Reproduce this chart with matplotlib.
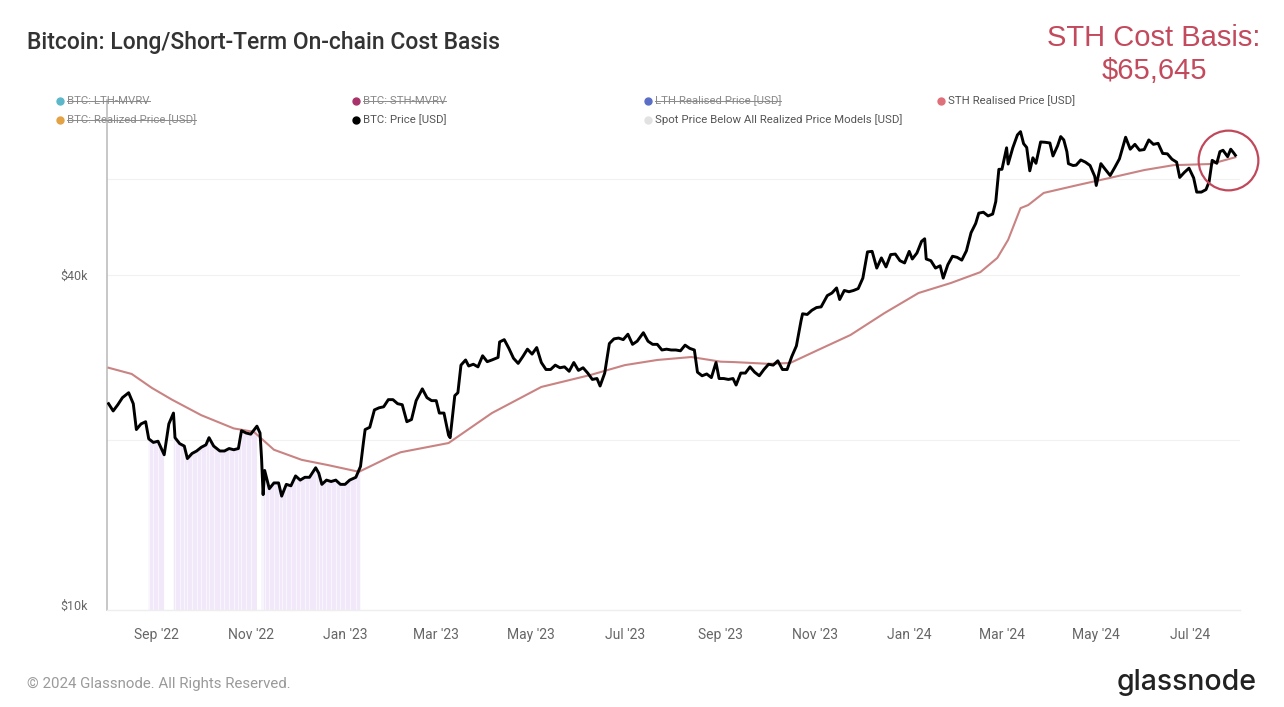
import matplotlib
matplotlib.use("Agg")
import matplotlib.pyplot as plt
import matplotlib.dates as mdates
from matplotlib.lines import Line2D
import numpy as np
import pandas as pd

# ---------------- data ----------------
price_dates = [
    "2022-08-01","2022-08-04","2022-08-07","2022-08-10","2022-08-14","2022-08-17","2022-08-19","2022-08-22",
    "2022-08-25","2022-08-27","2022-08-30","2022-09-02","2022-09-06","2022-09-09","2022-09-12","2022-09-13",
    "2022-09-16","2022-09-19","2022-09-21","2022-09-24","2022-09-27","2022-09-30","2022-10-03","2022-10-05",
    "2022-10-08","2022-10-12","2022-10-15","2022-10-18","2022-10-21","2022-10-24","2022-10-26","2022-10-29",
    "2022-11-01","2022-11-05","2022-11-07","2022-11-08","2022-11-09","2022-11-10","2022-11-13","2022-11-16",
    "2022-11-19","2022-11-21","2022-11-24","2022-11-27","2022-11-30","2022-12-03","2022-12-06","2022-12-09",
    "2022-12-13","2022-12-15","2022-12-17","2022-12-20","2022-12-23","2022-12-26","2022-12-29","2023-01-01",
    "2023-01-04","2023-01-08","2023-01-11","2023-01-13","2023-01-14","2023-01-17","2023-01-20","2023-01-23",
    "2023-01-26","2023-01-29","2023-02-01","2023-02-04","2023-02-07","2023-02-10","2023-02-13","2023-02-16",
    "2023-02-20","2023-02-23","2023-02-26","2023-03-01","2023-03-03","2023-03-06","2023-03-09","2023-03-10",
    "2023-03-13","2023-03-15","2023-03-17","2023-03-20","2023-03-22","2023-03-25","2023-03-28","2023-03-31",
    "2023-04-03","2023-04-06","2023-04-10","2023-04-11","2023-04-14","2023-04-17","2023-04-20","2023-04-23",
    "2023-04-26","2023-04-29","2023-05-02","2023-05-05","2023-05-08","2023-05-11","2023-05-14","2023-05-17",
    "2023-05-20","2023-05-23","2023-05-26","2023-05-29","2023-06-01","2023-06-04","2023-06-07","2023-06-10",
    "2023-06-13","2023-06-15","2023-06-18","2023-06-21","2023-06-24","2023-06-27","2023-06-30","2023-07-03",
    "2023-07-06","2023-07-09","2023-07-13","2023-07-16","2023-07-19","2023-07-22","2023-07-25","2023-07-28",
    "2023-07-31","2023-08-03","2023-08-06","2023-08-09","2023-08-12","2023-08-15","2023-08-17","2023-08-20",
    "2023-08-23","2023-08-26","2023-08-29","2023-08-31","2023-09-03","2023-09-06","2023-09-09","2023-09-11",
    "2023-09-14","2023-09-17","2023-09-20","2023-09-23","2023-09-26","2023-09-29","2023-10-02","2023-10-05",
    "2023-10-08","2023-10-11","2023-10-14","2023-10-17","2023-10-20","2023-10-23","2023-10-24","2023-10-27",
    "2023-10-30","2023-11-02","2023-11-05","2023-11-09","2023-11-12","2023-11-15","2023-11-17","2023-11-20",
    "2023-11-23","2023-11-26","2023-11-29","2023-12-02","2023-12-05","2023-12-08","2023-12-11","2023-12-14",
    "2023-12-17","2023-12-20","2023-12-23","2023-12-26","2023-12-29","2024-01-01","2024-01-03","2024-01-06",
    "2024-01-09","2024-01-11","2024-01-12","2024-01-15","2024-01-18","2024-01-21","2024-01-23","2024-01-26",
    "2024-01-29","2024-02-01","2024-02-04","2024-02-07","2024-02-10","2024-02-13","2024-02-15","2024-02-18",
    "2024-02-21","2024-02-24","2024-02-26","2024-02-28","2024-03-01","2024-03-04","2024-03-05","2024-03-08",
    "2024-03-11","2024-03-13","2024-03-15","2024-03-17","2024-03-19","2024-03-21","2024-03-23","2024-03-26",
    "2024-03-29","2024-04-01","2024-04-03","2024-04-06","2024-04-08","2024-04-10","2024-04-12","2024-04-13",
    "2024-04-16","2024-04-18","2024-04-21","2024-04-24","2024-04-27","2024-04-30","2024-05-01","2024-05-04",
    "2024-05-07","2024-05-10","2024-05-13","2024-05-16","2024-05-20","2024-05-23","2024-05-26","2024-05-29",
    "2024-06-01","2024-06-04","2024-06-07","2024-06-10","2024-06-13","2024-06-16","2024-06-19","2024-06-22",
    "2024-06-24","2024-06-27","2024-06-30","2024-07-03","2024-07-05","2024-07-08","2024-07-11","2024-07-13",
    "2024-07-15","2024-07-18","2024-07-20","2024-07-22","2024-07-25","2024-07-27","2024-07-29","2024-07-30",
]
price_k = [
    23.3,22.6,23.2,23.9,24.4,23.3,20.9,21.4,
    21.6,20.1,19.8,19.9,18.8,21.4,22.4,20.2,
    19.7,19.5,18.5,18.9,19.1,19.4,19.6,20.2,
    19.5,19.1,19.1,19.3,19.2,19.3,20.8,20.6,
    20.5,21.2,20.6,18.5,15.9,17.6,16.3,16.7,
    16.7,15.8,16.6,16.5,17.2,16.9,17.1,17.1,
    17.8,17.4,16.6,16.9,16.8,16.9,16.6,16.6,
    16.9,17.1,17.9,19.9,20.9,21.1,22.7,22.9,
    23.0,23.7,23.7,23.3,23.2,21.6,21.8,23.6,
    24.8,23.9,23.6,23.6,22.4,22.4,20.4,20.2,
    24.1,24.4,27.4,28.0,27.3,27.5,27.2,28.5,
    27.8,28.0,28.3,30.2,30.5,29.4,28.2,27.6,
    28.4,29.3,28.7,29.5,27.7,26.9,26.9,27.4,
    27.1,27.2,26.7,27.7,26.8,27.1,26.5,25.8,
    25.9,25.1,26.5,30.0,30.6,30.7,30.5,31.2,
    29.9,30.3,31.4,30.3,29.9,29.9,29.2,29.3,
    29.2,29.2,29.1,29.8,29.4,29.2,26.6,26.2,
    26.4,26.0,27.7,25.9,25.9,25.8,25.9,25.2,
    26.5,26.5,27.2,26.6,26.2,26.9,27.5,27.4,
    27.9,26.9,26.9,28.4,29.7,33.0,34.0,33.9,
    34.5,34.9,35.0,36.7,37.1,37.9,36.1,37.5,
    37.3,37.5,37.8,39.5,44.1,44.2,41.2,43.0,
    41.4,43.6,43.7,42.5,42.1,44.2,42.8,43.9,
    46.1,46.6,42.8,42.5,41.2,41.6,39.5,41.8,
    43.3,43.1,42.6,44.3,47.8,49.7,51.9,52.1,
    51.3,51.7,54.5,62.4,62.4,68.3,63.8,68.3,
    72.1,73.1,69.5,68.4,62.0,65.5,64.0,70.0,
    69.9,69.7,66.0,68.9,71.6,70.6,67.2,63.9,
    63.4,63.5,64.9,64.3,63.4,60.6,58.3,63.9,
    62.3,60.8,62.9,65.2,71.4,67.9,69.3,67.6,
    67.8,70.6,69.3,69.6,66.7,66.6,65.1,64.3,
    60.3,61.6,62.7,60.2,56.7,56.7,57.3,59.2,
    64.8,64.0,67.2,67.6,65.8,67.9,66.8,66.2,
]

sth_dates = [
    "2022-08-01","2022-08-16","2022-08-29","2022-09-11","2022-09-30","2022-10-21","2022-11-03","2022-11-16",
    "2022-12-04","2022-12-21","2023-01-10","2023-01-31","2023-02-06","2023-03-09","2023-04-06","2023-05-08",
    "2023-06-09","2023-07-01","2023-07-22","2023-08-13","2023-09-01","2023-09-10","2023-10-02","2023-10-16",
    "2023-11-03","2023-11-24","2023-12-16","2024-01-07","2024-01-28","2024-02-16","2024-02-27","2024-03-05",
    "2024-03-13","2024-03-18","2024-03-28","2024-04-19","2024-05-10","2024-06-01","2024-06-20","2024-07-14",
    "2024-07-30",
]
sth_k = [
    27.1,26.4,24.9,23.7,22.2,21.0,20.7,19.2,
    18.4,18.0,17.5,18.7,19.0,19.75,22.4,25.0,
    26.3,27.4,28.0,28.35,27.8,27.75,27.55,27.65,
    29.2,31.1,34.1,37.1,38.7,40.5,43.0,46.4,
    53.0,53.7,56.5,58.4,60.2,62.2,63.5,63.8,
    65.645,
]

# periods where spot price sat below all realized price models
below_periods = [("2022-08-26", "2022-09-07"), ("2022-09-12", "2022-11-05"), ("2022-11-08", "2023-01-11")]

y_ticks = [10000, 40000]
y_tick_labels = ["$10k", "$40k"]
y_grid = [20000, 40000, 60000]

legend_labels = [
    "BTC: LTH-MVRV", "BTC: STH-MVRV", "LTH Realised Price [USD]", "STH Realised Price [USD]",
    "BTC: Realized Price [USD]", "BTC: Price [USD]", "Spot Price Below All Realized Price Models [USD]",
]
legend_colors = ["#5bb7c9", "#a8336b", "#5b6ec6", "#df6f78", "#e3a243", "#000000", "#e2e2e2"]
legend_hidden = [True, True, True, False, True, False, False]

# ---------------- figure ----------------
W, H = 1284, 707
fig = plt.figure(figsize=(W / 100, H / 100), dpi=100)
fig.patch.set_facecolor("white")

def fx(px):
    return px / W

def fy(py):
    return 1 - py / H

ax = fig.add_axes([fx(107), fy(610), fx(1240) - fx(107), fy(100) - fy(610)])

pd_dates = pd.to_datetime(price_dates)
prices = np.array(price_k) * 1000
sd = pd.to_datetime(sth_dates)
sth = np.array(sth_k) * 1000

ymin, ymax = 9790, 83500
ax.set_yscale("log")
ax.set_ylim(ymin, ymax)
ax.set_xlim(pd.Timestamp("2022-07-31"), pd.Timestamp("2024-08-02"))

# shaded region
mask = np.zeros(len(pd_dates), dtype=bool)
for a, b in below_periods:
    mask |= (pd_dates >= pd.Timestamp(a)) & (pd_dates <= pd.Timestamp(b))
ax.fill_between(pd_dates, ymin, prices, where=mask, color="#f1e8f9", linewidth=0, zorder=1)
ax.vlines(pd_dates[mask], ymin, prices[mask] * 0.985, color="white", linewidth=0.7, alpha=0.6, zorder=1.5)

# grid
for g in y_grid:
    ax.axhline(g, color="#f1f1f1", linewidth=0.8, zorder=0)

ax.plot(sd, sth, color="#c98383", linewidth=1.5, zorder=3)
ax.plot(pd_dates, prices, color="#000000", linewidth=2.1, zorder=4, solid_joinstyle="round")

# circle highlight around latest price
ax.plot([pd.Timestamp("2024-07-25")], [64900], marker="o", markersize=43, markerfacecolor="none",
        markeredgecolor="#c0485a", markeredgewidth=1.6, zorder=5, clip_on=False)

# axes styling
for s in ["top", "right"]:
    ax.spines[s].set_visible(False)
ax.spines["left"].set_color("#bdbdbd")
ax.spines["left"].set_linewidth(1.2)
ax.spines["bottom"].set_color("#eeeeee")
ax.spines["bottom"].set_linewidth(1.0)
ax.yaxis.set_major_locator(matplotlib.ticker.FixedLocator(y_ticks))
ax.yaxis.set_minor_locator(matplotlib.ticker.NullLocator())
ax.set_yticklabels(y_tick_labels)
ax.tick_params(axis="y", length=0, pad=14, labelsize=9, labelcolor="#666666")
ax.xaxis.set_major_locator(mdates.MonthLocator(bymonth=[1, 3, 5, 7, 9, 11]))
ax.xaxis.set_major_formatter(mdates.DateFormatter("%b '%y"))
ax.tick_params(axis="x", length=0, pad=13, labelsize=10, labelcolor="#666666")
for lab in ax.get_xticklabels() + ax.get_yticklabels():
    lab.set_family("Roboto")

# title & annotation
fig.text(fx(27), fy(43), "Bitcoin: Long/Short-Term On-chain Cost Basis", fontsize=16.5, color="#333333",
         family="Roboto", fontweight="medium", va="center", ha="left")
fig.text(fx(1154), fy(38), "STH Cost Basis:", fontsize=21, color="#c24a5c", family="Liberation Sans",
         ha="center", va="center")
fig.text(fx(1154), fy(71), "$65,645", fontsize=21, color="#c24a5c", family="Liberation Sans",
         ha="center", va="center")

# legend
col_x = [60, 356, 648, 941]
row_y = [101, 120]
legend_texts = []
for i, (lab, col, hid) in enumerate(zip(legend_labels, legend_colors, legend_hidden)):
    r, c = divmod(i, 4)
    x, y = col_x[c], row_y[r]
    fig.add_artist(Line2D([fx(x)], [fy(y)], marker="o", markersize=5, color=col, linestyle="none",
                          transform=fig.transFigure))
    t = fig.text(fx(x + 7), fy(y), lab, fontsize=8.2, color="#8a8a8a" if hid else "#555555",
                 family="Roboto", va="center", ha="left")
    legend_texts.append((t, hid))

fig.canvas.draw()
renderer = fig.canvas.get_renderer()
for t, hid in legend_texts:
    if hid:
        bb = t.get_window_extent(renderer).transformed(fig.transFigure.inverted())
        ym = (bb.y0 + bb.y1) / 2
        fig.add_artist(Line2D([bb.x0, bb.x1], [ym, ym], color="#8a8a8a", linewidth=0.7,
                              transform=fig.transFigure))

# footer
fig.text(fx(27), fy(684), "\u00a9 2024 Glassnode. All Rights Reserved.", fontsize=10.8, color="#9a9a9a",
         family="Roboto", va="center", ha="left")
fig.text(fx(1257), fy(682), "glassnode", fontsize=20.5, color="#222222", family="Inter",
         fontweight="medium", va="center", ha="right")

fig.savefig("out.png", dpi=100, facecolor="white")
